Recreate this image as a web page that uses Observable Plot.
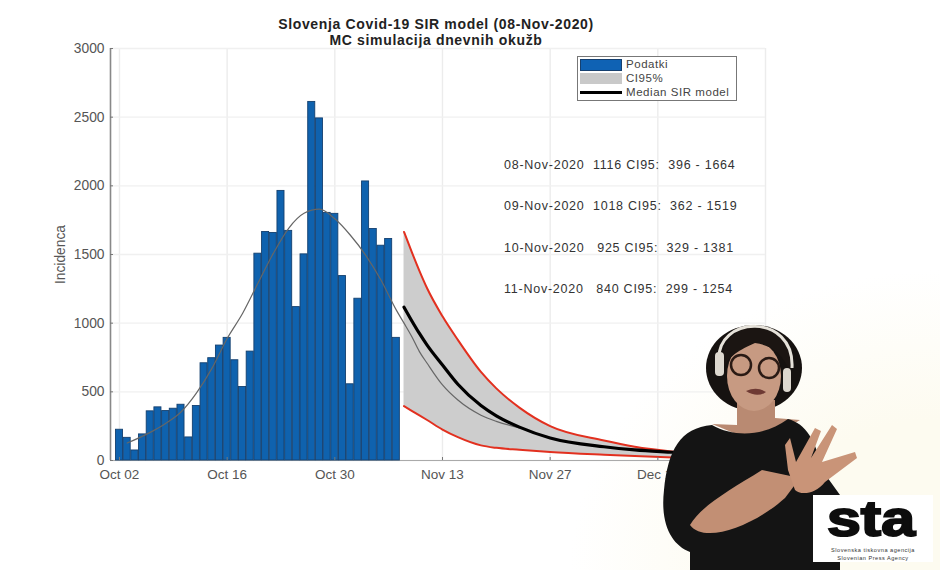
<!DOCTYPE html>
<html>
<head>
<meta charset="utf-8">
<script src="https://cdn.jsdelivr.net/npm/d3@7"></script>
<script src="https://cdn.jsdelivr.net/npm/@observablehq/plot@0.6"></script>
<style>
html,body{margin:0;padding:0;width:940px;height:570px;overflow:hidden;font-family:"Liberation Sans",Arial,sans-serif;
 background:radial-gradient(ellipse 370px 300px at 100% 100%,#fdfbf0 50%,#ffffff 100%);}
#wrap{position:relative;width:940px;height:570px}
#title{height:40px;box-sizing:border-box;padding-top:16px;margin-left:-68px;text-align:center;font-weight:bold;font-size:14px;line-height:16px;color:#222;letter-spacing:.66px}
#legend{position:absolute;left:577px;top:56px;width:160px;height:45px;box-sizing:border-box;border:1px solid #777;background:#fff;font-size:11.5px;color:#444}
#legend .row{position:absolute;left:2px;height:12px;width:155px}
#legend .sw{position:absolute;left:0;top:0;width:42px;height:11px}
#legend .lab{position:absolute;left:46px;top:-1px;line-height:13px;white-space:nowrap;letter-spacing:.55px}
#overlay{position:absolute;left:0;top:0}
.note text{letter-spacing:.75px}
</style>
</head>
<body>
<div id="wrap">
<div id="title"></div>
<div id="chart"></div>
<div id="legend"></div>
<svg id="overlay" width="940" height="570" viewBox="0 0 940 570">
  <!-- stand-in for the sign-language interpreter in the video frame -->
  <ellipse cx="754" cy="368" rx="48" ry="43" fill="#161210"/>
  <path d="M737 400 L737 425 L712 424 L760 444 L800 420 L775 418 L775 400 Z" fill="#b98a72"/>
  <path d="M712 425 C735 438 765 436 788 419 C806 424 816 440 822 470 L840 495 L840 570 L690 570 L690 552 C672 545 660 525 664 490 C668 450 680 428 712 425 Z" fill="#141414"/>
  <ellipse cx="754" cy="376" rx="27" ry="35" fill="#c79a82"/>
  <path d="M722 372 C718 335 745 325 760 327 C785 330 795 350 790 372 C782 352 770 345 755 343 C740 350 728 355 722 372 Z" fill="#1b1512"/>
  <path d="M719 362 C715 315 795 312 792 368" fill="none" stroke="#e6e2da" stroke-width="3"/>
  <rect x="715" y="352" width="9" height="24" rx="4" fill="#ddd8cf"/>
  <rect x="783" y="368" width="8" height="24" rx="4" fill="#ddd8cf"/>
  <circle cx="741" cy="365" r="10" fill="none" stroke="#2a1a14" stroke-width="2.5"/>
  <circle cx="769" cy="368" r="10" fill="none" stroke="#2a1a14" stroke-width="2.5"/>
  <path d="M746 391 Q757 386 766 392 Q757 398 746 391 Z" fill="#6e3a34"/>
  <path d="M690 525 C702 505 730 490 762 470 L800 478 L785 498 C755 525 705 545 690 525 Z" fill="#c28f74"/>
  <path d="M785 445 L790 438 L796 462 L815 428 L821 431 L811 458 L832 425 L837 429 L822 462 L855 452 L857 458 L825 482 C815 495 800 495 795 490 L788 470 Z" fill="#c99478"/>
  <rect x="813" y="495" width="120" height="67" fill="#fff"/>
  <text x="827" y="536" font-family="Liberation Sans" font-weight="bold" font-size="50" fill="#0d0d0d" stroke="#0d0d0d" stroke-width="2" textLength="88" lengthAdjust="spacingAndGlyphs">sta</text>
  <text x="873" y="552" text-anchor="middle" font-family="Liberation Sans" font-size="5.6" fill="#333" letter-spacing=".5">Slovenska tiskovna agencija</text>
  <text x="873" y="560" text-anchor="middle" font-family="Liberation Sans" font-size="5.6" fill="#333" letter-spacing=".5">Slovenian Press Agency</text>
</svg>
</div>
<script>
const titleLines = ["Slovenja Covid-19 SIR model (08-Nov-2020)", "MC simulacija dnevnih okužb"];
const yLabel = "Incidenca";
const legendLabels = ["Podatki", "CI95%", "Median SIR model"];

const firstDay = "2020-10-02";
const incidence = [224,165,73,190,358,387,360,377,406,168,397,708,745,837,893,730,535,793,1506,1664,1657,1963,1672,1117,1501,2611,2491,1803,1796,1343,555,1178,2032,1686,1564,1613,893];

const forecastDates = ["2020-11-08","2020-11-09","2020-11-10","2020-11-11","2020-11-13","2020-11-15","2020-11-18","2020-11-20","2020-11-23","2020-11-27","2020-12-04","2020-12-08","2020-12-13","2020-12-25"];
const upper  = [1664,1519,1381,1254,1050,878,645,525,385,250,145,100,64,25];
const median = [1116,1018,925,840,695,555,400,325,243,164,100,77,60,20];
const lower  = [396,362,329,295,225,170,110,92,78,62,42,32,22,6];

const fitDates = ["2020-10-03","2020-10-06","2020-10-08","2020-10-10","2020-10-12","2020-10-14","2020-10-16","2020-10-18","2020-10-20","2020-10-22","2020-10-24","2020-10-26","2020-10-28","2020-10-30","2020-11-01","2020-11-03","2020-11-05","2020-11-07","2020-11-08","2020-11-09","2020-11-10","2020-11-11","2020-11-13","2020-11-15","2020-11-18","2020-11-20","2020-11-23"];
const fitValues = [127,205,270,353,490,669,888,1070,1290,1508,1691,1800,1830,1760,1642,1496,1314,1095,1000,903,793,708,550,440,330,285,238];

const xTicks = ["2020-10-02","2020-10-16","2020-10-30","2020-11-13","2020-11-27","2020-12-11","2020-12-25"];
const yTicks = [0,500,1000,1500,2000,2500,3000];

const noteDate = "2020-11-21";
const noteTexts = ["08-Nov-2020  1116 CI95:  396 - 1664","09-Nov-2020  1018 CI95:  362 - 1519","10-Nov-2020   925 CI95:  329 - 1381","11-Nov-2020   840 CI95:  299 - 1254"];
const noteY = [2150,1850,1548,1248];

const D = s => new Date(s + "T00:00:00Z");
const bars = incidence.map((v,i)=>({date:d3.utcDay.offset(D(firstDay),i),v}));
const band = forecastDates.map((d,i)=>({date:D(d),upper:upper[i],median:median[i],lower:lower[i]}));
const fit = fitDates.map((d,i)=>({date:D(d),v:fitValues[i]}));
const notes = noteTexts.map((t,i)=>({t,y:noteY[i],x:D(noteDate)}));

document.getElementById("title").innerHTML = titleLines.join("<br>");

const lg = document.getElementById("legend");
lg.innerHTML = `
<div class="row" style="top:2px"><div class="sw" style="height:12px;background:#0f62b4;border:1px solid #16406f;box-sizing:border-box"></div><div class="lab">${legendLabels[0]}</div></div>
<div class="row" style="top:16px"><div class="sw" style="background:#c9c9c9"></div><div class="lab">${legendLabels[1]}</div></div>
<div class="row" style="top:30px"><div class="sw" style="height:3px;top:4px;background:#000"></div><div class="lab">${legendLabels[2]}</div></div>`;

const chart = Plot.plot({
  width:940, height:530,
  marginLeft:110, marginRight:175, marginTop:8, marginBottom:110,
  style:{background:"transparent",fontFamily:"Liberation Sans",fontSize:"12.5px",color:"#555"},
  x:{type:"utc",domain:[new Date("2020-09-30T20:00:00Z"),D("2020-12-25")]},
  y:{domain:[0,3000]},
  marks:[
    Plot.gridX(xTicks.map(D),{stroke:"#ececec",strokeOpacity:1,strokeWidth:1.4}),
    Plot.gridY(yTicks,{stroke:"#f0f0f0",strokeOpacity:1,strokeWidth:1.4}),
    Plot.ruleY([0],{stroke:"#aaa",strokeWidth:1.2}),
    Plot.ruleX([new Date("2020-09-30T20:00:00Z")],{stroke:"#888",strokeWidth:1.6}),
    Plot.areaY(band,{x:"date",y1:"lower",y2:"upper",fill:"#cdcdcd",curve:"monotone-x"}),
    Plot.rectY(bars,{
      x1:d=>d3.utcHour.offset(d.date,-11), x2:d=>d3.utcHour.offset(d.date,11),
      y1:0, y2:"v", fill:"#0f62ae", stroke:"#14406f", strokeWidth:0.9
    }),
    Plot.line(fit,{x:"date",y:"v",stroke:"#666",strokeWidth:1.2,curve:"monotone-x"}),
    Plot.line(band,{x:"date",y:"upper",stroke:"#e2301f",strokeWidth:2,curve:"monotone-x"}),
    Plot.line(band,{x:"date",y:"lower",stroke:"#e2301f",strokeWidth:2,curve:"monotone-x"}),
    Plot.line(band,{x:"date",y:"median",stroke:"#000",strokeWidth:3.2,curve:"monotone-x"}),
    Plot.text(notes,{x:"x",y:"y",text:"t",textAnchor:"start",fontSize:12.5,fill:"#333",className:"note"}),
    Plot.axisX({ticks:xTicks.map(D),tickFormat:d3.utcFormat("%b %d"),tickSize:-3,tickPadding:12,label:null,stroke:"#777",fontSize:13.5}),
    Plot.axisY({ticks:yTicks,tickSize:-3,tickPadding:9,label:yLabel,labelAnchor:"center",labelArrow:"none",labelOffset:55,tickFormat:d=>String(d),stroke:"#777",fontSize:13.8})
  ]
});
document.getElementById("chart").appendChild(chart);
</script>
</body>
</html>
